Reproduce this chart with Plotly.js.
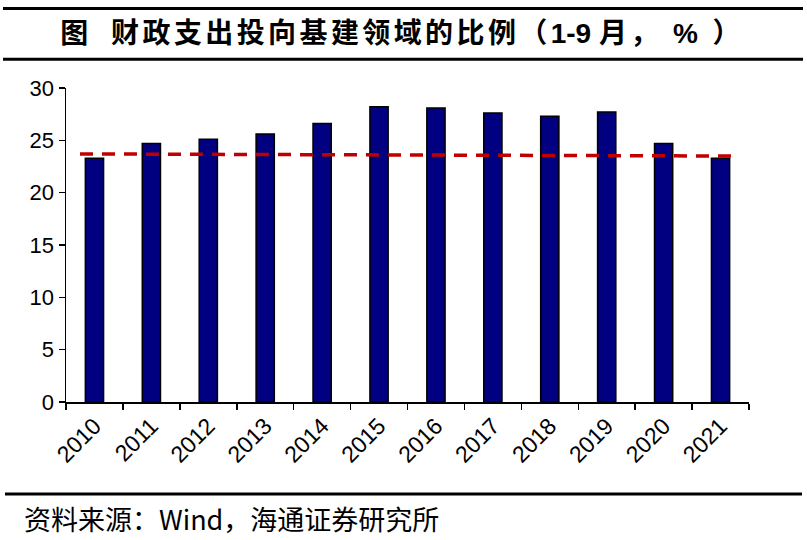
<!DOCTYPE html>
<html>
<head>
<meta charset="utf-8">
<script src="https://cdn.plot.ly/plotly-3.0.1.min.js"></script>
<style>html,body{margin:0;padding:0;background:#fff;}#chart{width:807px;height:540px;}#chart .gtitle{letter-spacing:3.4px;}</style>
</head>
<body>
<div id="chart"></div>
<script>
const years = ['2010','2011','2012','2013','2014','2015','2016','2017','2018','2019','2020','2021'];
const shareValues = [23.3, 24.7, 25.1, 25.6, 26.6, 28.2, 28.1, 27.6, 27.3, 27.7, 24.7, 23.3];
const trendYears = ['2010','2021'];
const trendValues = [23.7, 23.5];
const yTicks = [0, 5, 10, 15, 20, 25, 30];
const titleText = '图&nbsp;&nbsp;财政支出投向基建领域的比例（<span style="font-family:Liberation Sans,Arial;letter-spacing:0px">1-9 </span>月，<span style="font-family:Liberation Sans,Arial"> % </span>）';
const sourceText = '资料来源：Wind，海通证券研究所';

const L = 66, R = 749, T = 87.7, B = 402;
const W = R - L, H = B - T;
const px = X => (X - L) / W;
const py = Y => (B - Y) / H;

const traces = [
  {
    type: 'bar', x: years, y: shareValues,
    marker: {color: '#000080', line: {color: '#000000', width: 1.5}},
    width: 0.32, hoverinfo: 'x+y', showlegend: false
  },
  {
    type: 'scatter', mode: 'lines', x: trendYears, y: trendValues, xaxis: 'x2',
    line: {color: '#C00000', width: 3.5, dash: '13px,9px'},
    showlegend: false
  }
];

const layout = {
  width: 807, height: 540,
  margin: {l: L, r: 807 - R, t: T, b: 540 - B, pad: 0},
  paper_bgcolor: '#ffffff', plot_bgcolor: '#ffffff',
  font: {family: 'Liberation Sans, Arial, sans-serif', color: '#000000'},
  title: {
    text: '<b>' + titleText + '</b>',
    x: 402 / 807, xanchor: 'center', xref: 'container',
    y: 1 - 33.5 / 540, yanchor: 'middle', yref: 'container',
    font: {family: 'Noto Sans CJK SC, sans-serif', size: 28, color: '#000000'}
  },
  xaxis: {
    type: 'category', range: [-0.5, 11.5],
    showline: true, linecolor: '#000000', linewidth: 1.5,
    ticks: 'outside', ticklen: 6, tickcolor: '#000000', tickwidth: 1.5,
    tickson: 'boundaries', tickangle: -45,
    tickfont: {size: 23, family: 'Liberation Sans, Arial, sans-serif'},
    showgrid: false, zeroline: false, fixedrange: true
  },
  xaxis2: {
    type: 'category', overlaying: 'x', categoryarray: years, categoryorder: 'array',
    range: [-0.236, 11.287], visible: false, fixedrange: true
  },
  yaxis: {
    range: [0, 30], tickvals: yTicks,
    showline: true, linecolor: '#000000', linewidth: 1.5,
    ticks: 'outside', ticklen: 6, tickcolor: '#000000', tickwidth: 1.5,
    tickfont: {size: 22, family: 'Liberation Sans, Arial, sans-serif'},
    showgrid: false, zeroline: false, fixedrange: true
  },
  shapes: [
    {type: 'line', xref: 'paper', yref: 'paper', x0: px(3), x1: px(803), y0: py(8), y1: py(8), line: {color: '#000', width: 3}},
    {type: 'line', xref: 'paper', yref: 'paper', x0: px(3), x1: px(803), y0: py(59), y1: py(59), line: {color: '#000', width: 3}},
    {type: 'line', xref: 'paper', yref: 'paper', x0: px(5), x1: px(802), y0: py(494), y1: py(494), line: {color: '#000', width: 3}}
  ],
  annotations: [
    {text: sourceText, xref: 'paper', yref: 'paper', x: px(22), y: py(519), xanchor: 'left', yanchor: 'middle',
     showarrow: false, font: {family: 'Noto Sans CJK SC, sans-serif', size: 27, color: '#000'}}
  ]
};

Plotly.newPlot('chart', traces, layout, {displayModeBar: false, staticPlot: true});
</script>
</body>
</html>
